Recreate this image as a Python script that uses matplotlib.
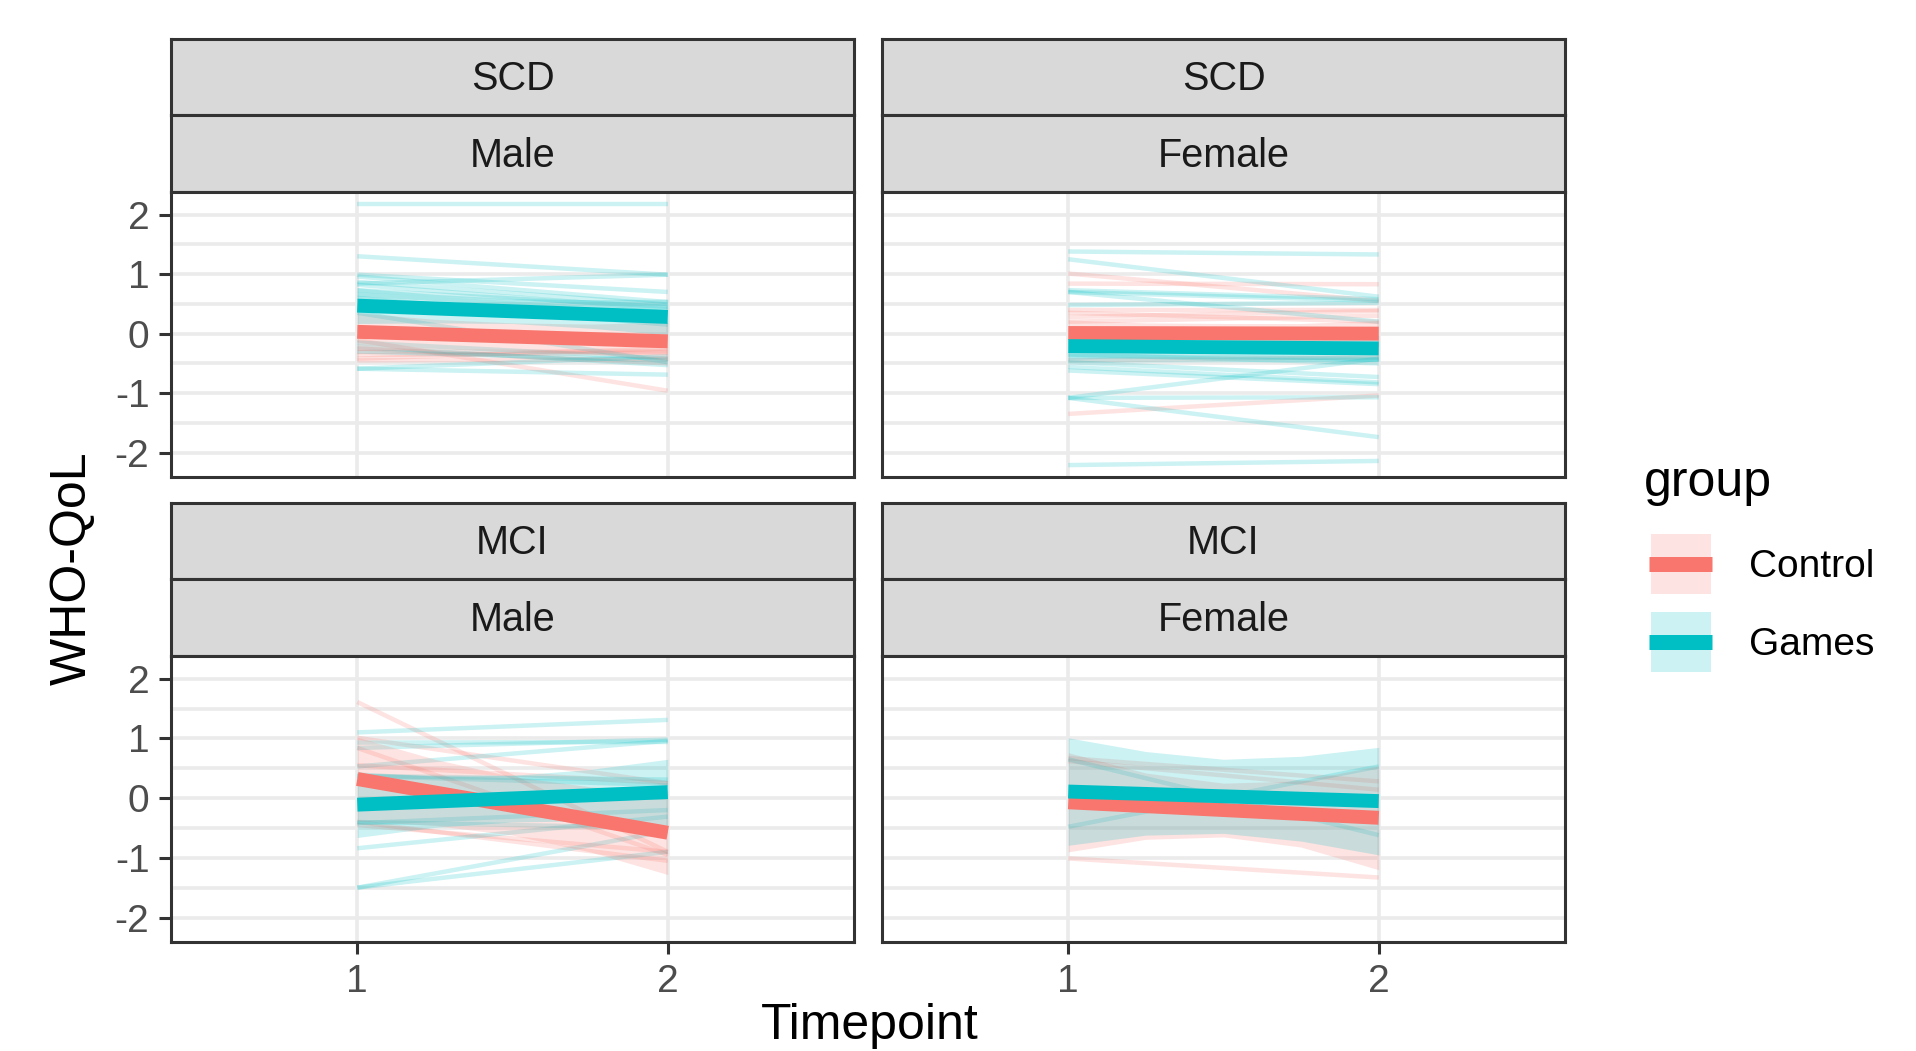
import matplotlib
matplotlib.use("Agg")
import matplotlib.pyplot as plt
from matplotlib.patches import Rectangle

plt.rcParams['font.family'] = ['Liberation Sans', 'DejaVu Sans']

# ---- data ----
timepoints = [1, 2]
ribbon_x = [1, 1.25, 1.5, 1.75, 2]
y_ticks = [-2, -1, 0, 1, 2]
y_tick_labels = ['-2', '-1', '0', '1', '2']
y_minor = [-1.5, -0.5, 0.5, 1.5]
groups = ['Control', 'Games']

# individual subjects: (timepoint 1, timepoint 2)
scd_male_control = [(-0.11, -0.96), (-0.31, -0.30), (-0.42, -0.25), (-0.36, -0.32),
                    (-0.45, -0.43), (-0.25, -0.50)]
scd_male_games = [(2.17, 2.17), (1.30, 0.99), (0.84, 0.99), (0.99, 0.70), (0.96, 0.53),
                  (0.87, 0.49), (0.82, 0.41), (0.73, 0.45), (0.66, 0.36), (0.60, 0.15),
                  (-0.59, -0.69), (-0.59, -0.38), (-0.22, -0.53), (-0.30, -0.45),
                  (0.35, -0.48), (-0.15, -0.42)]

scd_female_control = [(1.01, 0.55), (0.84, 0.83), (0.40, 0.40), (0.35, 0.20), (0.28, 0.38),
                      (0.20, 0.30), (-1.35, -1.04), (-0.45, -0.40)]
scd_female_games = [(1.38, 1.33), (1.25, 0.62), (0.70, 0.55), (0.73, 0.58), (0.70, 0.20),
                    (0.48, 0.52), (-0.37, -0.42), (-0.48, -0.73), (-0.56, -0.82),
                    (-0.62, -0.85), (-0.45, -0.44), (-1.08, -0.42), (-1.08, -1.07),
                    (-1.08, -1.74), (-2.21, -2.14), (-0.35, -0.50)]

mci_male_control = [(1.61, -0.90), (1.01, 0.25), (0.84, -0.95), (-0.40, -1.05),
                    (-0.45, -0.90), (0.55, 0.25)]
mci_male_games = [(1.10, 1.31), (0.84, 0.98), (0.93, 0.94), (0.53, 0.96), (0.37, 0.31),
                  (0.37, 0.22), (-0.42, -0.20), (-0.84, -0.31), (-1.50, -0.55),
                  (-1.50, -0.90), (-0.40, -0.50)]

mci_female_control = [(0.67, 0.28), (0.62, 0.14), (-1.01, -1.33)]
mci_female_games = [(0.65, -0.62), (-0.48, 0.53)]

# group trend lines (timepoint 1, timepoint 2)
scd_male_control_fit = [0.03, -0.13]
scd_male_games_fit = [0.47, 0.28]
scd_female_control_fit = [0.01, 0.00]
scd_female_games_fit = [-0.21, -0.25]
mci_male_control_fit = [0.32, -0.58]
mci_male_games_fit = [-0.11, 0.10]
mci_female_control_fit = [-0.07, -0.33]
mci_female_games_fit = [0.11, -0.05]

# confidence bands at ribbon_x
scd_male_control_lo = [-0.29, -0.26, -0.28, -0.34, -0.45]
scd_male_control_hi = [0.35, 0.24, 0.18, 0.16, 0.19]
scd_male_games_lo = [0.17, 0.18, 0.17, 0.09, -0.02]
scd_male_games_hi = [0.77, 0.66, 0.59, 0.57, 0.58]
scd_female_control_lo = [-0.21, -0.17, -0.15, -0.17, -0.22]
scd_female_control_hi = [0.23, 0.18, 0.17, 0.17, 0.22]
scd_female_games_lo = [-0.43, -0.40, -0.39, -0.42, -0.47]
scd_female_games_hi = [0.01, -0.04, -0.07, -0.06, -0.03]
mci_male_control_lo = [-0.38, -0.46, -0.62, -0.90, -1.28]
mci_male_control_hi = [1.02, 0.65, 0.36, 0.19, 0.12]
mci_male_games_lo = [-0.66, -0.49, -0.40, -0.38, -0.45]
mci_male_games_hi = [0.44, 0.37, 0.38, 0.48, 0.65]
mci_female_control_lo = [-0.90, -0.69, -0.65, -0.82, -1.20]
mci_female_control_hi = [0.76, 0.42, 0.25, 0.29, 0.54]
mci_female_games_lo = [-0.79, -0.62, -0.59, -0.72, -0.95]
mci_female_games_hi = [1.01, 0.78, 0.65, 0.70, 0.85]

colors = {'Control': '#F8766D', 'Games': '#00BFC4'}

panels = [
    ('SCD', 'Male', 0, 0,
     {'Control': (scd_male_control, scd_male_control_fit, scd_male_control_lo, scd_male_control_hi),
      'Games': (scd_male_games, scd_male_games_fit, scd_male_games_lo, scd_male_games_hi)}),
    ('SCD', 'Female', 0, 1,
     {'Control': (scd_female_control, scd_female_control_fit, scd_female_control_lo, scd_female_control_hi),
      'Games': (scd_female_games, scd_female_games_fit, scd_female_games_lo, scd_female_games_hi)}),
    ('MCI', 'Male', 1, 0,
     {'Control': (mci_male_control, mci_male_control_fit, mci_male_control_lo, mci_male_control_hi),
      'Games': (mci_male_games, mci_male_games_fit, mci_male_games_lo, mci_male_games_hi)}),
    ('MCI', 'Female', 1, 1,
     {'Control': (mci_female_control, mci_female_control_fit, mci_female_control_lo, mci_female_control_hi),
      'Games': (mci_female_games, mci_female_games_fit, mci_female_games_lo, mci_female_games_hi)}),
]

# ---- layout (pixels of the 1916x1051 canvas) ----
W, H = 1916, 1051
col_x = [(171, 854), (882, 1565)]
row_y = [(39, 115, 192, 477), (503, 579, 656, 942)]  # strip1 top, strip2 top, panel top, panel bottom
dark = '#333333'
border_lw = 2.2


def px_axes(fig, x0, y0, x1, y1):
    return fig.add_axes([x0 / W, 1 - y1 / H, (x1 - x0) / W, (y1 - y0) / H])


fig = plt.figure(figsize=(W / 100, H / 100), dpi=100)

for diag, sex, r, c, data in panels:
    x0, x1 = col_x[c]
    s1, s2, p0, p1 = row_y[r]

    # strips
    for (ya, yb), label in [((s1, s2), diag), ((s2, p0), sex)]:
        sax = px_axes(fig, x0, ya, x1, yb)
        sax.set_facecolor('#D9D9D9')
        sax.set_xticks([])
        sax.set_yticks([])
        for sp in sax.spines.values():
            sp.set_color(dark)
            sp.set_linewidth(border_lw)
        sax.text(0.5, 0.47, label, ha='center', va='center', fontsize=28.5,
                 color='#1A1A1A', transform=sax.transAxes)

    ax = px_axes(fig, x0, p0, x1, p1)
    ax.set_xlim(0.4, 2.6)
    ax.set_ylim(-2.41, 2.38)
    ax.set_xticks(timepoints)
    ax.set_yticks(y_ticks)
    ax.set_yticks(y_minor, minor=True)
    ax.grid(which='major', color='#EBEBEB', lw=2.6)
    ax.grid(which='minor', axis='y', color='#EBEBEB', lw=2.6)
    ax.set_axisbelow(True)
    for sp in ax.spines.values():
        sp.set_color(dark)
        sp.set_linewidth(border_lw)
        sp.set_zorder(10)
    ax.tick_params(which='minor', length=0)
    ax.tick_params(which='major', length=8.5, width=border_lw, color=dark,
                   labelsize=28, labelcolor='#4D4D4D', pad=7)

    if c == 0:
        ax.set_yticklabels(y_tick_labels)
    else:
        ax.tick_params(axis='y', length=0, labelleft=False)
    if r == 1:
        ax.set_xticklabels([str(t) for t in timepoints])
    else:
        ax.tick_params(axis='x', length=0, labelbottom=False)

    # subject lines
    for g in groups:
        for t1, t2 in data[g][0]:
            ax.plot(timepoints, [t1, t2], color=colors[g], alpha=0.2, lw=3.2,
                    solid_capstyle='butt', zorder=2)
    # confidence ribbons
    for g in groups:
        _, fit, lo, hi = data[g]
        ax.fill_between(ribbon_x, lo, hi, color=colors[g], alpha=0.2, lw=0, zorder=3)
    # group trends
    for g in groups:
        ax.plot(timepoints, data[g][1], color=colors[g], lw=10,
                solid_capstyle='butt', zorder=4)

# axis titles
fig.text(73 / W, 1 - 568 / H, 'WHO-QoL', rotation=90, ha='center', va='center',
         fontsize=36, color='black')
fig.text(870 / W, 1 - 1039 / H, 'Timepoint', ha='center', va='baseline',
         fontsize=36, color='black')

# legend
lax = px_axes(fig, 1600, 440, 1916, 700)
lax.set_xlim(1600, 1916)
lax.set_ylim(700, 440)
lax.axis('off')
lax.text(1644, 496, 'group', fontsize=36, ha='left', va='baseline', color='black')
for i, g in enumerate(groups):
    cy = 564 + i * 78
    lax.add_patch(Rectangle((1651, cy - 30), 60, 60, facecolor=colors[g], alpha=0.2, lw=0))
    lax.plot([1649, 1712], [cy, cy], color=colors[g], lw=10.8, solid_capstyle='butt')
    lax.text(1749, cy + 3, g, fontsize=28, ha='left', va='center', color='black')

fig.savefig('out.png', dpi=100)
